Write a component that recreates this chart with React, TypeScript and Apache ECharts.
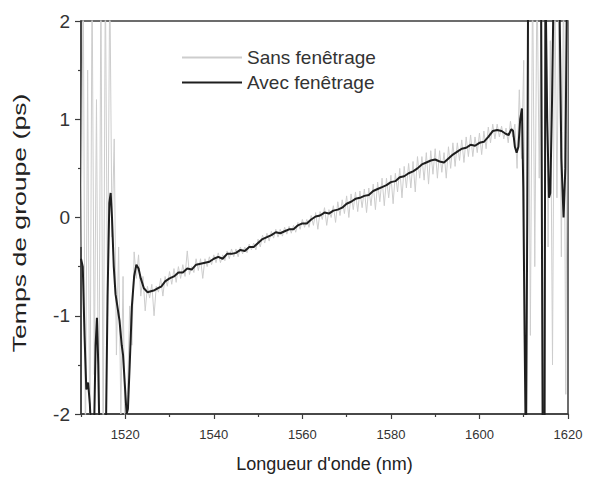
import React, { useEffect, useRef } from "react";
import * as echarts from "echarts";

const xMajorTicks = [1520, 1540, 1560, 1580, 1600, 1620];
const xMinorTicks = [1510, 1530, 1550, 1570, 1590, 1610];
const seriesNames = ["Sans fenêtrage", "Avec fenêtrage"];

// "Sans fenêtrage": sampled every 0.5 nm from 1510 nm
const sansStart = 1510;
const sansStep = 0.5;
const sansValues = [
  -0.3, 2.5, -2.5, 1.5, -2.5, 2.5, -1.6, 1.2, -2.5, 2.5,
  -2.5, 2.5, -1.0, 2.5, -0.2, 0.8, -1.4, -0.3, -2.0, -0.6,
  -2.5, -1.8, -0.9, -1.3,
  -0.35, -0.62, -0.38, -0.8, -0.6, -0.95, -0.7, -0.82, -0.68, -1.0,
  -0.7, -0.76, -0.62, -0.8, -0.6, -0.7, -0.55, -0.68, -0.52, -0.66,
  -0.5, -0.62, -0.48, -0.6, -0.34, -0.58, -0.5, -0.56, -0.42, -0.54,
  -0.42, -0.62, -0.42, -0.5, -0.4, -0.48, -0.38, -0.46, -0.36, -0.46,
  -0.38, -0.44, -0.34, -0.42, -0.32, -0.4, -0.32, -0.4, -0.3, -0.37,
  -0.3, -0.36, -0.27, -0.33, -0.26, -0.33, -0.22, -0.3, -0.18, -0.26,
  -0.16, -0.24, -0.14, -0.21, -0.12, -0.2, -0.12, -0.19, -0.1, -0.17,
  -0.09, -0.16, -0.08, -0.15, -0.05, -0.12, -0.02, -0.1, -0.02, -0.1,
  0.02, -0.08, 0.05, -0.12, 0.06, -0.02, 0.1, -0.08, 0.08, 0.0,
  0.12, -0.05, 0.16, 0.02, 0.18, 0.04, 0.22, 0.0, 0.24, 0.08,
  0.26, 0.06, 0.27, 0.1, 0.29, 0.05, 0.3, 0.12, 0.34, 0.08,
  0.36, 0.16, 0.4, 0.12, 0.4, 0.2, 0.43, 0.14, 0.45, 0.26,
  0.5, 0.2, 0.52, 0.3, 0.55, 0.3, 0.57, 0.26, 0.62, 0.4,
  0.62, 0.38, 0.66, 0.34, 0.68, 0.44, 0.7, 0.4, 0.68, 0.46,
  0.66, 0.4, 0.72, 0.5, 0.76, 0.52, 0.76, 0.58, 0.79, 0.56,
  0.82, 0.62, 0.84, 0.62, 0.82, 0.66, 0.86, 0.64, 0.88, 0.7,
  0.92, 0.76, 0.95, 0.8, 0.95, 0.82, 0.93, 0.8, 0.91, 0.76,
  0.98, 0.82,
  0.95, 0.5, 1.3, 0.6, 1.6, -2.5, 2.5, -1.2, 2.5, -0.5,
  2.5, 0.4, 2.5, -2.5, 2.5, -0.3, 1.8, -1.5, 2.5, 0.2,
  2.5, -0.4, 2.5, -1.8, 2.5,
];

// "Avec fenêtrage"
const avecX = [
  1510, 1510.4, 1510.8, 1511.2, 1511.6, 1512, 1512.4, 1512.9, 1513.3, 1513.6,
  1513.9, 1514.2, 1515.6, 1516.0, 1516.4, 1516.7, 1517.0, 1517.4, 1517.8, 1518.2,
  1518.7, 1519.2, 1519.5, 1519.9, 1520.3, 1520.6, 1521.0, 1521.5, 1522.0, 1522.5,
  1523.0, 1523.5, 1524.2, 1525.0, 1525.8, 1526.6, 1527.4, 1528.2, 1529, 1530,
  1531, 1532, 1533, 1534, 1535, 1536, 1537, 1538, 1539, 1540,
  1541, 1542, 1543, 1544, 1545, 1546, 1547, 1548, 1549, 1550,
  1551, 1552, 1553, 1554, 1555, 1556, 1557, 1558, 1559, 1560,
  1561, 1562, 1563, 1564, 1565, 1566, 1567, 1568, 1569, 1570,
  1571, 1572, 1573, 1574, 1575, 1576, 1577, 1578, 1579, 1580,
  1581, 1582, 1583, 1584, 1585, 1586, 1587, 1588, 1589, 1590,
  1591, 1592, 1593, 1594, 1595, 1596, 1597, 1598, 1599, 1600,
  1601, 1602, 1603, 1604, 1605, 1606, 1606.6, 1607.2, 1607.6, 1608.0,
  1608.4, 1608.8, 1609.2, 1609.6, 1609.9, 1610.2, 1610.5, 1610.8, 1611.0, 1613.9,
  1614.1, 1614.3, 1614.7, 1614.9, 1615.3, 1615.7, 1616.0, 1616.4, 1616.8, 1618.0,
  1618.5, 1619.0, 1619.4, 1619.8, 1620,
];
const avecY = [
  -0.42, -0.5, -1.2, -1.75, -1.68, -1.9, -2.3, -2.3, -1.3, -1.02,
  -1.5, -2.3, -2.3, -0.8, 0.15, 0.25, 0.0, -0.5, -0.78, -0.9,
  -1.05, -1.3, -1.4, -1.7, -2.0, -1.95, -1.5, -0.9, -0.6, -0.48,
  -0.52, -0.62, -0.72, -0.76, -0.75, -0.74, -0.72, -0.7, -0.65, -0.62,
  -0.6, -0.56, -0.56, -0.52, -0.53, -0.48, -0.47, -0.46, -0.45, -0.42,
  -0.4, -0.42, -0.37, -0.37, -0.36, -0.33, -0.34, -0.3, -0.3, -0.26,
  -0.22, -0.2, -0.18, -0.15, -0.16, -0.14, -0.12, -0.12, -0.08, -0.06,
  -0.06, -0.02, 0.01, 0.02, 0.05, 0.04, 0.07, 0.08, 0.1, 0.14,
  0.16, 0.19, 0.2, 0.22, 0.23, 0.27, 0.29, 0.31, 0.33, 0.36,
  0.37, 0.41, 0.42, 0.45, 0.47, 0.5, 0.54, 0.56, 0.58, 0.59,
  0.57, 0.56, 0.6, 0.64, 0.67, 0.7, 0.71, 0.74, 0.73, 0.76,
  0.77, 0.82, 0.88, 0.89, 0.88, 0.85, 0.84, 0.9, 0.88, 0.72,
  0.66, 0.72, 1.0, 1.11, 0.3, -1.2, -2.5, 0, 2.5, 2.5,
  0, -2.5, -2.5, 2.5, 1.0, 0.2, 0.25, 1.2, 2.5, 2.5,
  0.6, 0.0, 0.5, 2.5, 2.5,
];

const FONT = "'Liberation Sans', Arial, Helvetica, sans-serif";
const NARROW = "'Liberation Sans Narrow', 'Liberation Sans', Arial, sans-serif";
const AXIS = "#3c3c3c";

export default function App() {
  const ref = useRef<HTMLDivElement>(null);
  useEffect(() => {
    if (!ref.current) return;
    const chart = echarts.init(ref.current, null, { renderer: "svg" });
    const sansData = sansValues.map((v, i) => [sansStart + i * sansStep, v]);
    const avecData = avecX.map((x, i) => [x, avecY[i]]);
    chart.setOption({
      animation: false,
      backgroundColor: "#ffffff",
      grid: {
        left: 81,
        right: 27,
        top: 21,
        bottom: 67,
        show: true,
        borderColor: AXIS,
        borderWidth: 1.5,
        backgroundColor: "transparent",
      },
      legend: {
        orient: "vertical",
        left: 176,
        top: 43,
        padding: 5,
        itemWidth: 60,
        itemHeight: 2,
        itemGap: 6,
        itemStyle: { opacity: 0 },
        data: seriesNames,
        textStyle: { fontSize: 19, fontFamily: FONT, color: "#333" },
      },
      xAxis: [
        {
          type: "value",
          min: 1510,
          max: 1620,
          position: "bottom",
          axisLine: { show: true, onZero: false, lineStyle: { color: AXIS, width: 1.5 } },
          axisTick: {
            show: true,
            customValues: xMajorTicks,
            length: 5,
            lineStyle: { color: AXIS, width: 1.2 },
          },
          axisLabel: {
            customValues: xMajorTicks,
            margin: 14,
            fontSize: 13,
            fontFamily: NARROW,
            color: "#333",
            formatter: (v: number) => String(v),
          },
          splitLine: { show: false },
          name: "Longueur d'onde (nm)",
          nameLocation: "middle",
          nameGap: 41,
          nameTextStyle: { fontSize: 18, fontFamily: FONT, color: "#222" },
        },
        {
          type: "value",
          min: 1510,
          max: 1620,
          position: "bottom",
          axisLine: { show: false, onZero: false },
          axisTick: {
            show: true,
            customValues: xMinorTicks,
            length: 3,
            lineStyle: { color: AXIS, width: 1.2 },
          },
          axisLabel: { show: false },
          splitLine: { show: false },
        },
      ],
      yAxis: {
        type: "value",
        min: -2,
        max: 2,
        interval: 1,
        axisLine: { show: true, onZero: false, lineStyle: { color: AXIS, width: 1.5 } },
        axisTick: { show: true, length: 6, lineStyle: { color: AXIS, width: 1.2 } },
        minorTick: { show: true, splitNumber: 2, length: 3, lineStyle: { color: AXIS, width: 1.2 } },
        axisLabel: { margin: 11, fontSize: 19, fontFamily: FONT, color: "#333" },
        splitLine: { show: false },
        minorSplitLine: { show: false },
      },
      graphic: [
        {
          type: "text",
          x: 19,
          y: 223,
          rotation: Math.PI / 2,
          scaleX: 1.4,
          style: {
            text: "Temps de groupe (ps)",
            fontSize: 19,
            fontFamily: FONT,
            fill: "#222",
            align: "center",
            verticalAlign: "middle",
            textAlign: "center",
            textVerticalAlign: "middle",
          },
        },
      ],
      series: [
        {
          name: seriesNames[0],
          type: "line",
          data: sansData,
          symbol: "none",
          showSymbol: false,
          lineStyle: { color: "#cdcdcd", width: 1 },
          itemStyle: { color: "#cdcdcd" },
          z: 2,
        },
        {
          name: seriesNames[1],
          type: "line",
          data: avecData,
          symbol: "none",
          showSymbol: false,
          lineStyle: { color: "#1e1e1e", width: 2 },
          itemStyle: { color: "#1e1e1e" },
          z: 3,
        },
      ],
    });
    return () => chart.dispose();
  }, []);
  return (
    <div
      ref={ref}
      style={{ position: "fixed", left: 0, top: 0, width: 595, height: 481 }}
    />
  );
}
